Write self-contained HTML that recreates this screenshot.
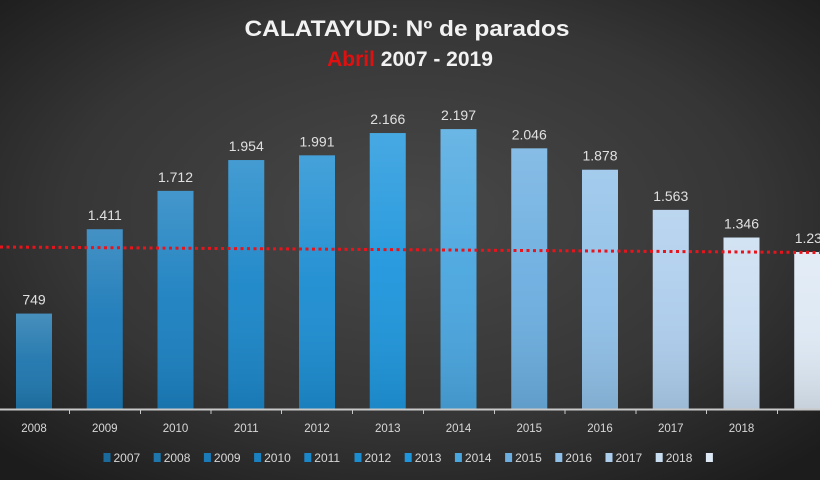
<!DOCTYPE html>
<html><head><meta charset="utf-8"><style>
html,body{margin:0;padding:0;background:#2a2a2a}
svg{display:block}
</style></head><body>
<svg width="820" height="480" xmlns="http://www.w3.org/2000/svg" font-family="Liberation Sans, DejaVu Sans, sans-serif">
<defs>
<radialGradient id="bg" cx="50%" cy="45%" r="70%">
<stop offset="0" stop-color="#484848"/><stop offset="0.6" stop-color="#363636"/><stop offset="1" stop-color="#1c1c1c"/>
</radialGradient>
<linearGradient id="sh" x1="0" y1="0" x2="0" y2="1">
<stop offset="0" stop-color="#fff" stop-opacity="0.18"/><stop offset="0.5" stop-color="#fff" stop-opacity="0.04"/><stop offset="1" stop-color="#000" stop-opacity="0.1"/>
</linearGradient>
</defs>
<rect width="820" height="480" fill="url(#bg)"/>
<text x="407" y="36" text-anchor="middle" font-size="22" font-weight="bold" fill="#f2f2f2" textLength="325" lengthAdjust="spacingAndGlyphs">CALATAYUD: Nº de parados</text>
<text x="410" y="66" text-anchor="middle" font-size="21" font-weight="bold" fill="#f2f2f2"><tspan fill="#e01010">Abril</tspan> 2007 - 2019</text>
<g id="bars"></g>
<line x1="0" y1="409.5" x2="820" y2="409.5" stroke="#c8c8c8" stroke-width="2"/>
<g stroke="#c8c8c8" stroke-width="1">
<line x1="69.5" y1="409" x2="69.5" y2="414"/><line x1="140.5" y1="409" x2="140.5" y2="414"/><line x1="211" y1="409" x2="211" y2="414"/><line x1="281.5" y1="409" x2="281.5" y2="414"/><line x1="352.5" y1="409" x2="352.5" y2="414"/><line x1="423.5" y1="409" x2="423.5" y2="414"/><line x1="494.5" y1="409" x2="494.5" y2="414"/><line x1="565" y1="409" x2="565" y2="414"/><line x1="636" y1="409" x2="636" y2="414"/><line x1="706.5" y1="409" x2="706.5" y2="414"/><line x1="777.5" y1="409" x2="777.5" y2="414"/>
</g>
<line x1="0" y1="247" x2="820" y2="252.5" stroke="#e8141c" stroke-width="3" stroke-dasharray="3,3.5"/>
<g id="labels"></g>
<g id="legend"></g>
<script>
(function(){
var vals=[749,1411,1712,1954,1991,2166,2197,2046,1878,1563,1346,1232];
var cols=["#1f76ad","#1b7ab8","#1b80c0","#1b86c8","#1d8dd1","#1f96dc","#4aa6df","#6caee0","#90c0e8","#adcdec","#c9ddf1","#dde8f4"];
var leg=["#1a6a9c","#1f76ad","#1b7ab8","#1b80c0","#1b86c8","#1d8dd1","#1f96dc","#4aa6df","#6caee0","#90c0e8","#adcdec","#c9ddf1","#dde8f4"];
var ns="http://www.w3.org/2000/svg";
function el(t,a,p,txt){var e=document.createElementNS(ns,t);for(var k in a)e.setAttribute(k,a[k]);if(txt)e.textContent=txt;document.getElementById(p).appendChild(e);}
for(var i=0;i<12;i++){
 var cx=34+i*70.75, h=vals[i]*0.1274, yt=409-h;
 el('rect',{x:cx-18,y:yt,width:36,height:h,fill:cols[i]},'bars');
 el('rect',{x:cx-18,y:yt,width:36,height:h,fill:'url(#sh)'},'bars');
 var s=vals[i]<1000?String(vals[i]):String(vals[i]).replace(/^(\d)/,'$1.');
 el('text',{x:cx,y:yt-9,'text-anchor':'middle','font-size':'14',fill:'#e0e0e0'},'labels',s);
 if(i<11) el('text',{x:cx,y:432,'text-anchor':'middle','font-size':'11.5',fill:'#d8d8d8'},'labels',String(2008+i));
}
for(var j=0;j<13;j++){
 var x=103.5+j*50.2;
 el('rect',{x:x,y:453,width:7,height:9,fill:leg[j]},'legend');
 if(j<12) el('text',{x:x+10,y:462,'font-size':'12',fill:'#d8d8d8'},'legend',String(2007+j));
}
})();
</script>
</svg>
</body></html>
